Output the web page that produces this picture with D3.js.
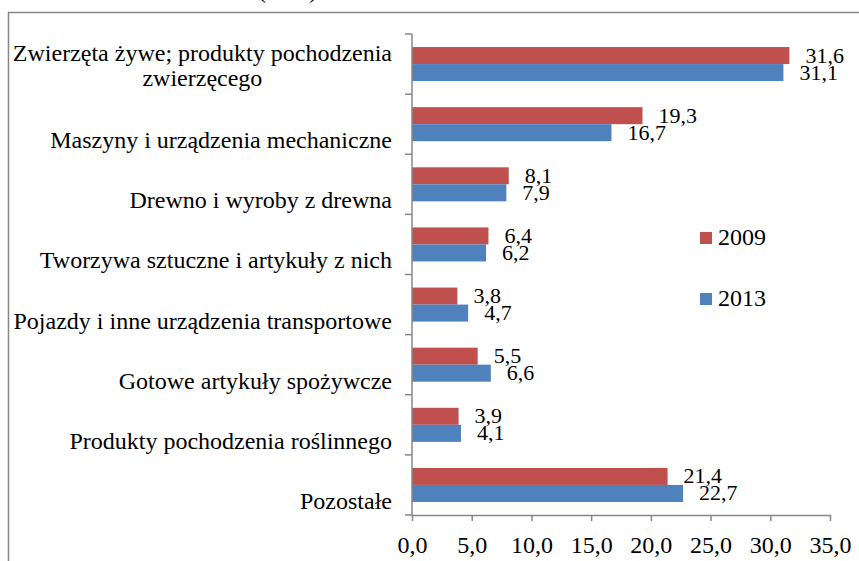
<!DOCTYPE html>
<html>
<head>
<meta charset="utf-8">
<script src="https://cdn.jsdelivr.net/npm/d3@7"></script>
<style>
  html, body { margin: 0; padding: 0; background: #fff; }
  #chart { width: 859px; height: 561px; overflow: hidden; }
  text { font-family: "Liberation Serif", "Times New Roman", serif; fill: #000; }
</style>
</head>
<body>
<div id="chart"></div>
<script>
'use strict';

const categories = [
  'Zwierzęta żywe; produkty pochodzenia zwierzęcego',
  'Maszyny i urządzenia mechaniczne',
  'Drewno i wyroby z drewna',
  'Tworzywa sztuczne i artykuły z nich',
  'Pojazdy i inne urządzenia transportowe',
  'Gotowe artykuły spożywcze',
  'Produkty pochodzenia roślinnego',
  'Pozostałe',
];
const seriesNames = ['2009', '2013'];
const values2009 = [31.6, 19.3, 8.1, 6.4, 3.8, 5.5, 3.9, 21.4];
const values2013 = [31.1, 16.7, 7.9, 6.2, 4.7, 6.6, 4.1, 22.7];
const xTicks = [0, 5, 10, 15, 20, 25, 30, 35];

const COLORS = { '2009': '#C0504D', '2013': '#4F81BD' };
const AXIS_COLOR = '#878787';
const FONT_SIZE = 24;
const VALUE_FONT_SIZE = 22;
const W = 859, H = 561;
const PLOT = { left: 412, right: 830, top: 34, bottom: 515 };

const fmt = d => d3.format('.1f')(d).replace('.', ',');

const svg = d3.select('#chart').append('svg')
  .attr('width', W)
  .attr('height', H);

// outer frame (only top and left edges fall inside the picture)
svg.append('path')
  .attr('d', `M8.5,${H} V12.5 H${W}`)
  .attr('fill', 'none')
  .attr('stroke', AXIS_COLOR)
  .attr('stroke-width', 1.5);

// title, mostly cut off above the picture
svg.append('text')
  .attr('x', 258).attr('y', -2)
  .attr('font-size', FONT_SIZE + 'px')
  .text('(w %)');

const x = d3.scaleLinear()
  .domain([0, 35])
  .range([PLOT.left, PLOT.right]);

const y = d3.scaleBand()
  .domain(categories)
  .range([PLOT.top, PLOT.bottom])
  .paddingInner(0.434)
  .paddingOuter(0.217);

const ySub = d3.scaleBand()
  .domain(seriesNames)
  .range([0, y.bandwidth()]);

const rows = categories.map((c, i) => ({ cat: c, '2009': values2009[i], '2013': values2013[i] }));

// bars
const groups = svg.append('g').selectAll('g')
  .data(rows)
  .join('g')
  .attr('transform', d => `translate(0,${y(d.cat)})`);

seriesNames.forEach(s => {
  groups.append('rect')
    .attr('x', x(0))
    .attr('y', ySub(s))
    .attr('width', d => x(d[s]) - x(0))
    .attr('height', ySub.bandwidth())
    .attr('fill', COLORS[s]);

  groups.append('text')
    .attr('x', d => x(d[s]) + 16)
    .attr('y', ySub(s) + ySub.bandwidth() - 1.5)
    .attr('font-size', VALUE_FONT_SIZE + 'px')
    .text(d => fmt(d[s]));
});

// x axis
const xAxis = svg.append('g')
  .attr('transform', `translate(0,${PLOT.bottom})`)
  .call(d3.axisBottom(x).tickValues(xTicks).tickFormat(fmt).tickSize(6).tickSizeOuter(0));
xAxis.select('.domain').attr('stroke', AXIS_COLOR).attr('stroke-width', 1.5);
xAxis.selectAll('.tick line').attr('stroke', AXIS_COLOR).attr('stroke-width', 1.5);
xAxis.selectAll('.tick text')
  .attr('font-size', FONT_SIZE + 'px')
  .attr('font-family', null)
  .attr('fill', '#000')
  .attr('dy', null)
  .attr('y', 38);

// y axis: line plus ticks on category boundaries
const [yTop, yBottom] = y.range();
const boundaries = d3.range(categories.length + 1).map(i => yTop + i * y.step());
const yAxis = svg.append('g');
yAxis.append('line')
  .attr('x1', x(0)).attr('x2', x(0))
  .attr('y1', yTop).attr('y2', yBottom)
  .attr('stroke', AXIS_COLOR).attr('stroke-width', 1.5);
yAxis.selectAll('.btick')
  .data(boundaries)
  .join('line')
  .attr('class', 'btick')
  .attr('x1', x(0) - 7).attr('x2', x(0))
  .attr('y1', d => d).attr('y2', d => d)
  .attr('stroke', AXIS_COLOR).attr('stroke-width', 1.5);

// category labels, wrapped when too wide
const LABEL_RIGHT = 392;
const MAX_LABEL_W = 386;
const labels = svg.append('g');

categories.forEach(c => {
  const cy = y(c) + y.bandwidth() / 2;
  const probe = labels.append('text').attr('font-size', FONT_SIZE + 'px').text(c);
  if (probe.node().getComputedTextLength() <= MAX_LABEL_W) {
    probe.attr('x', LABEL_RIGHT).attr('y', cy + 24).attr('text-anchor', 'end');
    return;
  }
  probe.remove();
  const words = c.split(' ');
  const lines = [];
  let cur = [];
  const t = labels.append('text').attr('font-size', FONT_SIZE + 'px');
  words.forEach(w => {
    t.text(cur.concat(w).join(' '));
    if (cur.length && t.node().getComputedTextLength() > MAX_LABEL_W) {
      lines.push(cur.join(' '));
      cur = [w];
    } else {
      cur.push(w);
    }
  });
  lines.push(cur.join(' '));
  const maxW = d3.max(lines, l => { t.text(l); return t.node().getComputedTextLength(); });
  t.remove();
  lines.forEach((l, i) => {
    labels.append('text')
      .attr('font-size', FONT_SIZE + 'px')
      .attr('text-anchor', 'middle')
      .attr('x', LABEL_RIGHT - maxW / 2)
      .attr('y', cy - 3 + i * 25)
      .text(l);
  });
});

// legend
const legend = svg.append('g');
seriesNames.forEach((s, i) => {
  const row = legend.append('g').attr('transform', `translate(700,${232 + i * 61})`);
  row.append('rect')
    .attr('width', 12).attr('height', 12)
    .attr('fill', COLORS[s]);
  row.append('text')
    .attr('x', 18).attr('y', 13)
    .attr('font-size', FONT_SIZE + 'px')
    .text(s);
});
</script>
</body>
</html>
